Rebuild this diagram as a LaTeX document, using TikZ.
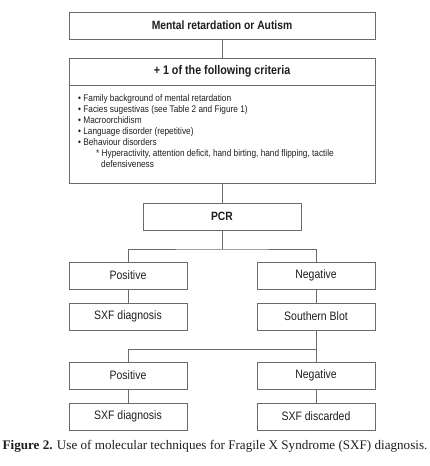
\documentclass[tikz,border=0pt]{standalone}
\usepackage{fontspec}
\setmainfont{Liberation Serif}
\newfontfamily\boxfont{Liberation Sans}[FakeStretch=0.86]
\definecolor{lineg}{HTML}{6A6A6A}
\definecolor{txt}{HTML}{1E1E1E}
\begin{document}
\begin{tikzpicture}[x=1pt,y=-1pt,
  box/.style={draw=lineg,line width=0.9pt,rectangle,inner sep=0pt,
    minimum height=27pt,text=txt,font=\boxfont\fontsize{12.2}{14}\selectfont},
  wide/.style={box,minimum width=306pt},
  small/.style={box,minimum width=118pt},
  conn/.style={draw=lineg,line width=0.9pt}]
\useasboundingbox (0,0) rectangle (430,466);
\node[wide,font=\boxfont\bfseries\fontsize{12}{14}\selectfont] (top) at (222,25.5) {Mental retardation or Autism};
\node[wide,font=\boxfont\bfseries\fontsize{12.5}{14}\selectfont] (crithead) at (222,71.5) {+ 1 of the following criteria};
\node[wide,minimum height=98pt] (critbody) at (222,134) {};
\node[anchor=north west,inner sep=0pt,align=left,text=txt,
  font=\boxfont\fontsize{9.6}{11}\selectfont] (list) at (78,94) {%
\textbullet\ Family background of mental retardation\\
\textbullet\ Facies sugestivas (see Table 2 and Figure 1)\\
\textbullet\ Macroorchidism\\
\textbullet\ Language disorder (repetitive)\\
\textbullet\ Behaviour disorders\\
\hspace{18pt}* Hyperactivity, attention deficit, hand birting, hand flipping, tactile\\
\hspace{23pt}defensiveness};
\node[box,minimum width=158pt,font=\boxfont\bfseries\fontsize{12}{14}\selectfont] (pcr) at (222,216.5) {PCR};
\node[small] (pos1) at (128,275.5) {Positive};
\node[small] (neg1) at (316,275.5) {Negative};
\node[small] (sxf1) at (128,316.5) {SXF diagnosis};
\node[small] (sb) at (316,316.5) {Southern Blot};
\node[small] (pos2) at (128,375.5) {Positive};
\node[small] (neg2) at (316,375.5) {Negative};
\node[small] (sxf2) at (128,416.5) {SXF diagnosis};
\node[small] (disc) at (316,416.5) {SXF discarded};
\node[inner sep=0pt,text=txt,font=\fontsize{13.1}{15}\selectfont] (cap) at (215,446)
  {\textbf{Figure 2.} Use of molecular techniques for Fragile X Syndrome (SXF) diagnosis.};
\coordinate (j1) at (222,249);
\coordinate (j2) at (316,349);
\draw[conn] (top) -- (crithead);
\draw[conn] (critbody) -- (pcr);
\draw[conn] (pcr) -- (j1);
\draw[conn] (pos1.north) |- (j1) -| (neg1.north);
\draw[conn] (pos1) -- (sxf1);
\draw[conn] (neg1) -- (sb);
\draw[conn] (sb) -- (j2);
\draw[conn] (pos2.north) |- (j2) -- (neg2.north);
\draw[conn] (pos2) -- (sxf2);
\draw[conn] (neg2) -- (disc);
\end{tikzpicture}
\end{document}
